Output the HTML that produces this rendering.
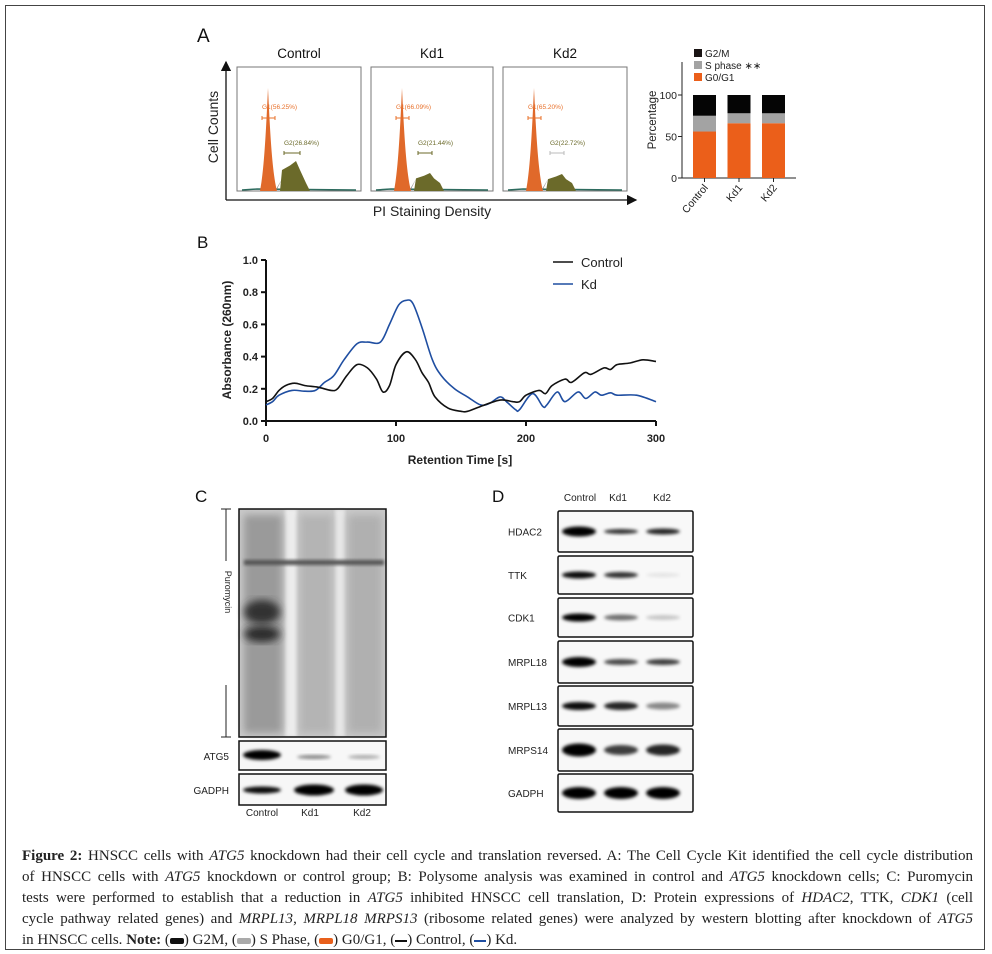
<!DOCTYPE html>
<html><head><meta charset="utf-8">
<style>
html,body{margin:0;padding:0;background:#fff;}
body{width:992px;height:954px;position:relative;overflow:hidden;font-family:"Liberation Sans",sans-serif;}
#frame{position:absolute;left:5px;top:5px;width:980px;height:945px;border:1px solid #444;box-sizing:border-box;}
.cap{position:absolute;left:22px;width:951px;font-family:"Liberation Serif",serif;font-size:15px;line-height:21px;color:#222;top:846px;}
.cap div{text-align:justify;text-align-last:justify;white-space:nowrap;}
.cap div.last{text-align-last:left;}
svg{position:absolute;left:0;top:0;}
</style></head>
<body>
<div id="frame"></div>
<svg id="fig" width="992" height="954">
<defs>
<filter id="blur1" x="-20%" y="-50%" width="140%" height="200%"><feGaussianBlur stdDeviation="1.6"/></filter>
<filter id="blur3" x="-20%" y="-20%" width="140%" height="140%"><feGaussianBlur stdDeviation="4"/></filter>
<marker id="arr" markerWidth="8" markerHeight="8" refX="7" refY="4" orient="auto"><path d="M0,0 L8,4 L0,8 z" fill="#111"/></marker>
</defs>
</svg>
<div class="cap">
<div><b>Figure 2:</b> HNSCC cells with <i>ATG5</i> knockdown had their cell cycle and translation reversed. A: The Cell Cycle Kit identified the cell cycle distribution</div>
<div>of HNSCC cells with <i>ATG5</i> knockdown or control group; B: Polysome analysis was examined in control and <i>ATG5</i> knockdown cells; C: Puromycin</div>
<div>tests were performed to establish that a reduction in <i>ATG5</i> inhibited HNSCC cell translation, D: Protein expressions of <i>HDAC2</i>, TTK, <i>CDK1</i> (cell</div>
<div>cycle pathway related genes) and <i>MRPL13</i>, <i>MRPL18 MRPS13</i> (ribosome related genes) were analyzed by western blotting after knockdown of <i>ATG5</i></div>
<div class="last">in HNSCC cells. <b>Note:</b> (<span style="display:inline-block;width:14px;height:6px;background:#111;border-radius:2px;vertical-align:middle"></span>) G2M, (<span style="display:inline-block;width:14px;height:6px;background:#aaa;border-radius:2px;vertical-align:middle"></span>) S Phase, (<span style="display:inline-block;width:14px;height:6px;background:#e8601c;border-radius:2px;vertical-align:middle"></span>) G0/G1, (<span style="display:inline-block;width:12px;height:2px;background:#111;vertical-align:middle"></span>) Control, (<span style="display:inline-block;width:12px;height:2px;background:#1f4ea1;vertical-align:middle"></span>) Kd.</div>
</div>
<script>
// ---- Panel B data ----
const ctrlT = [0,5,10,15,22,30,40,50,55,62,70,78,85,90,95,100,108,115,120,125,130,140,150,155,165,180,190,195,200,210,215,220,230,235,245,250,260,265,270,280,290,300];
const ctrlV = [0.12,0.14,0.19,0.22,0.235,0.22,0.21,0.19,0.20,0.28,0.35,0.33,0.26,0.18,0.22,0.35,0.43,0.38,0.30,0.24,0.15,0.08,0.06,0.06,0.09,0.13,0.12,0.12,0.16,0.19,0.17,0.22,0.26,0.24,0.30,0.29,0.33,0.32,0.35,0.36,0.38,0.37];
const kdT = [0,5,10,20,30,38,45,52,60,70,78,88,95,102,108,113,120,128,135,145,155,165,172,180,185,192,195,205,213,216,224,230,240,246,253,258,265,270,285,300];
const kdV = [0.10,0.12,0.16,0.19,0.185,0.19,0.24,0.28,0.38,0.48,0.49,0.49,0.60,0.72,0.75,0.73,0.58,0.38,0.28,0.20,0.15,0.10,0.11,0.15,0.12,0.07,0.07,0.17,0.09,0.10,0.18,0.12,0.18,0.14,0.18,0.16,0.175,0.16,0.16,0.12];
const bXTicks = [0,100,200,300];
const bYTicks = [0.0,0.2,0.4,0.6,0.8,1.0];
// ---- Panel A bar data ----
const cycleGroups = ['Control','Kd1','Kd2'];
const g0g1 = [56,66,66];
const sPhase = [19,12,12];
const g2m = [25,22,22];
const pctTicks = [0,50,100];
const histTitles = ['Control','Kd1','Kd2'];
const g1Labels = ['G1(56.25%)','G1(66.09%)','G1(65.20%)'];
const g2Labels = ['G2(26.84%)','G2(21.44%)','G2(22.72%)'];

const NS='http://www.w3.org/2000/svg';
const svg=document.getElementById('fig');
function mk(tag,attrs,parent){const e=document.createElementNS(NS,tag);for(const k in attrs)e.setAttribute(k,attrs[k]);(parent||svg).appendChild(e);return e;}
function txt(x,y,s,attrs,parent){const e=mk('text',Object.assign({x:x,y:y},attrs),parent);e.textContent=s;return e;}
function smooth(pts){let d='M'+pts[0][0]+','+pts[0][1];for(let i=0;i<pts.length-1;i++){const p0=pts[Math.max(0,i-1)],p1=pts[i],p2=pts[i+1],p3=pts[Math.min(pts.length-1,i+2)];const c1x=p1[0]+(p2[0]-p0[0])/6,c1y=p1[1]+(p2[1]-p0[1])/6,c2x=p2[0]-(p3[0]-p1[0])/6,c2y=p2[1]-(p3[1]-p1[1])/6;d+=' C'+c1x.toFixed(1)+','+c1y.toFixed(1)+' '+c2x.toFixed(1)+','+c2y.toFixed(1)+' '+p2[0].toFixed(1)+','+p2[1].toFixed(1);}return d;}

// ===== Panel A =====
let e;
e=txt(197,42,'A',{'font-size':19,fill:'#111'});


e=mk('line',{x1:226,y1:200,x2:226,y2:62,stroke:'#111','stroke-width':1.3,'marker-end':'url(#arr)'});


e=mk('line',{x1:226,y1:200,x2:636,y2:200,stroke:'#111','stroke-width':1.3,'marker-end':'url(#arr)'});


e=txt(0,0,'Cell Counts',{'font-size':14,fill:'#222','text-anchor':'middle',transform:'translate(218,127) rotate(-90)'});


e=txt(432,216,'PI Staining Density',{'font-size':14,fill:'#222','text-anchor':'middle'});


const boxes=[[237,361],[371,493],[503,627]];
const peakH=[103,103,103], g2H=[30,18,17];
boxes.forEach((b,i)=>{
  const x0=b[0],x1=b[1],w=x1-x0,top=67,bot=191;
  const g=mk('g',{});
  
  
  mk('rect',{x:x0,y:top,width:w,height:bot-top,fill:'#fff',stroke:'#777','stroke-width':1},g);
  txt((x0+x1)/2,58,histTitles[i],{'font-size':13.5,fill:'#111','text-anchor':'middle'},g);
  const px=x0+31;
  mk('path',{d:`M${x0+5},${bot-1} L${x0+20},${bot-2} L${x1-5},${bot-1}`,stroke:'#2d6b5e','stroke-width':1.5,fill:'none'},g);
  mk('path',{d:`M${px-7},${bot} L${px+8},${bot} L${px+14},${bot-12} L${px+7},${bot} z`,fill:'#7a7a7a'},g);
  const gx=px+14, gh=g2H[i];
  mk('path',{d:`M${gx-2},${bot} L${gx},${bot-gh*0.7} L${gx+8},${bot-gh*0.85} L${gx+14},${bot-gh} L${gx+18},${bot-gh*0.7} L${gx+24},${bot-8} L${gx+28},${bot} z`,fill:'#6b6a2a'},g);
  mk('path',{d:`M${px-8},${bot} C${px-4},${bot-20} ${px-2},${bot-60} ${px},${bot-peakH[i]} C${px+2},${bot-60} ${px+4},${bot-20} ${px+9},${bot} z`,fill:'#e0692a'},g);
  txt(px-6,109,g1Labels[i],{'font-size':6.5,fill:'#e8702a'},g);
  mk('path',{d:`M${px-6},116 v4 m0,-2 h13 m0,-2 v4`,stroke:'#e8702a','stroke-width':1,fill:'none'},g);
  txt(px+16,145,g2Labels[i],{'font-size':6.5,fill:'#6b6a2a'},g);
  mk('path',{d:`M${px+16},151 v4 m0,-2 h${i==0?16:14} m0,-2 v4`,stroke:i==2?'#bbb':'#6b6a2a','stroke-width':1,fill:'none'},g);
});
// bar chart
const bx0=682,bx1=796,by0=178,by100=95;
const yP=v=>by0-(by0-by100)*v/100;
e=mk('line',{x1:bx0,y1:62,x2:bx0,y2:by0,stroke:'#222','stroke-width':1});


e=mk('line',{x1:bx0,y1:by0,x2:bx1,y2:by0,stroke:'#222','stroke-width':1});


pctTicks.forEach(t=>{mk('line',{x1:bx0-4,y1:yP(t),x2:bx0,y2:yP(t),stroke:'#222'});e=txt(bx0-5,yP(t)+4,String(t),{'font-size':10.5,fill:'#222','text-anchor':'end'});});
e=txt(0,0,'Percentage',{'font-size':11.5,fill:'#222','text-anchor':'middle',transform:'translate(656,120) rotate(-90)'});


const bw=23, bStep=34.5, bStart=693;
cycleGroups.forEach((c,i)=>{
  const x=bStart+i*bStep;
  const a=g0g1[i], s=a+sPhase[i], t=s+g2m[i];
  e=mk('rect',{x:x,y:yP(a),width:bw,height:yP(0)-yP(a),fill:'#eb5f1a'});
  
  
  e=mk('rect',{x:x,y:yP(s),width:bw,height:yP(a)-yP(s),fill:'#a3a3a3'});
  
  
  e=mk('rect',{x:x,y:yP(t),width:bw,height:yP(s)-yP(t),fill:'#050505'});
  
  
  mk('line',{x1:x+bw/2,y1:by0,x2:x+bw/2,y2:by0+4,stroke:'#222'});
  e=txt(0,0,c,{'font-size':10.5,fill:'#222','text-anchor':'end',transform:`translate(${x+bw/2+4},${by0+10}) rotate(-50)`});
  
  
});
[['G2/M','#1a1414'],['S phase \u2217\u2217','#a3a3a3'],['G0/G1','#eb5f1a']].forEach((l,i)=>{
  const g=mk('g',{});
  
  
  mk('rect',{x:694,y:49+i*12,width:8,height:8,fill:l[1]},g);
  txt(705,57+i*12,l[0],{'font-size':10,fill:'#222'},g);
});

// ===== Panel B =====
const X0=266,X1=656,Y0=421,Y1=260;
const xB=t=>X0+(X1-X0)*t/300;
const yB=v=>Y0-(Y0-Y1)*v;
e=txt(197,248,'B',{'font-size':17,fill:'#111'});


e=mk('line',{x1:X0,y1:Y1,x2:X0,y2:Y0,stroke:'#111','stroke-width':2});


e=mk('line',{x1:X0,y1:Y0,x2:X1,y2:Y0,stroke:'#111','stroke-width':2});


bYTicks.forEach(t=>{mk('line',{x1:X0-5,y1:yB(t),x2:X0,y2:yB(t),stroke:'#111','stroke-width':2});e=txt(X0-8,yB(t)+4,t.toFixed(1),{'font-size':11,'font-weight':'bold',fill:'#222','text-anchor':'end'});});
bXTicks.forEach(t=>{mk('line',{x1:xB(t),y1:Y0,x2:xB(t),y2:Y0+5,stroke:'#111','stroke-width':2});e=txt(xB(t),Y0+21,String(t),{'font-size':11,'font-weight':'bold',fill:'#222','text-anchor':'middle'});});
e=txt(0,0,'Absorbance (260nm)',{'font-size':12,'font-weight':'bold',fill:'#222','text-anchor':'middle',transform:'translate(231,340) rotate(-90)'});


e=txt(460,464,'Retention Time [s]',{'font-size':12,'font-weight':'bold',fill:'#222','text-anchor':'middle'});


e=mk('path',{d:smooth(kdT.map((t,i)=>[xB(t),yB(kdV[i])])),stroke:'#1f4ea1','stroke-width':1.6,fill:'none'});


e=mk('path',{d:smooth(ctrlT.map((t,i)=>[xB(t),yB(ctrlV[i])])),stroke:'#111','stroke-width':1.6,fill:'none'});


[['Control','#111'],['Kd','#1f4ea1']].forEach((l,i)=>{
  const g=mk('g',{});
  
  
  mk('line',{x1:553,y1:262+i*22,x2:573,y2:262+i*22,stroke:l[1],'stroke-width':1.6},g);
  txt(581,267+i*22,l[0],{'font-size':13,fill:'#222'},g);
});

// ===== Panel C =====
e=txt(195,502,'C',{'font-size':17,fill:'#111'});


let g=mk('g',{});


mk('rect',{x:239,y:509,width:147,height:228,fill:'#c9c9c9'},g);
mk('rect',{x:285,y:509,width:12,height:228,fill:'#ececec',filter:'url(#blur1)'},g);
mk('rect',{x:335,y:509,width:10,height:228,fill:'#e6e6e6',filter:'url(#blur1)'},g);
mk('rect',{x:244,y:515,width:38,height:218,fill:'#9a9a9a',filter:'url(#blur3)'},g);
mk('rect',{x:300,y:515,width:32,height:218,fill:'#b4b4b4',filter:'url(#blur3)'},g);
mk('rect',{x:348,y:515,width:34,height:218,fill:'#b0b0b0',filter:'url(#blur3)'},g);
mk('ellipse',{cx:262,cy:612,rx:18,ry:12,fill:'#333',filter:'url(#blur3)'},g);
mk('ellipse',{cx:262,cy:634,rx:18,ry:8,fill:'#2a2a2a',filter:'url(#blur3)'},g);
mk('rect',{x:244,y:560,width:140,height:5,fill:'#555',filter:'url(#blur1)'},g);
mk('rect',{x:239,y:509,width:147,height:228,fill:'none',stroke:'#111','stroke-width':1.5},g);
mk('path',{d:'M221,509 h10 M226,509 V561 M226,685 V737 M221,737 h10',stroke:'#222','stroke-width':1,fill:'none'},g);
txt(0,0,'Puromycin',{'font-size':9,fill:'#222','text-anchor':'middle',transform:'translate(225,592) rotate(90)'},g);
function band(parent,cx,cy,w,h,op){mk('ellipse',{cx:cx,cy:cy,rx:w/2,ry:h/2,fill:'#000','fill-opacity':op,filter:'url(#blur1)'},parent);}
g=mk('g',{});


mk('rect',{x:239,y:741,width:147,height:29,fill:'#f7f7f7',stroke:'#111','stroke-width':1.5},g);
band(g,262,755,38,10,1);band(g,314,757,34,4,0.45);band(g,364,757,32,4,0.3);
txt(229,760,'ATG5',{'font-size':10,fill:'#222','text-anchor':'end'},g);
g=mk('g',{});


mk('rect',{x:239,y:774,width:147,height:31,fill:'#f7f7f7',stroke:'#111','stroke-width':1.5},g);
band(g,262,790,38,7,0.95);band(g,314,790,40,11,1);band(g,364,790,38,11,1);
txt(229,794,'GADPH',{'font-size':10,fill:'#222','text-anchor':'end'},g);
[['Control',262],['Kd1',310],['Kd2',362]].forEach(l=>{e=txt(l[1],816,l[0],{'font-size':10,fill:'#222','text-anchor':'middle'});});

// ===== Panel D =====
e=txt(492,502,'D',{'font-size':17,fill:'#111'});


[['Control',580],['Kd1',618],['Kd2',662]].forEach(l=>{e=txt(l[1],501,l[0],{'font-size':10,fill:'#222','text-anchor':'middle'});});
const dRows=[['HDAC2',511,552,[[1,10],[0.8,5],[0.85,6]]],['TTK',556,594,[[0.95,7],[0.8,6],[0.08,4]]],['CDK1',598,637,[[1,8],[0.55,6],[0.2,5]]],['MRPL18',641,683,[[1,10],[0.7,6],[0.75,6]]],['MRPL13',686,726,[[0.95,8],[0.85,8],[0.45,7]]],['MRPS14',729,771,[[1,13],[0.75,10],[0.85,11]]],['GADPH',774,812,[[1,12],[1,12],[1,12]]]];
dRows.forEach(r=>{
  const g=mk('g',{});
  
  
  mk('rect',{x:558,y:r[1],width:135,height:r[2]-r[1],fill:'#f8f8f8',stroke:'#111','stroke-width':1.5,rx:1.5},g);
  const cy=(r[1]+r[2])/2;
  [579,621,663].forEach((cx,k)=>band(g,cx,cy,34,r[3][k][1],r[3][k][0]));
  txt(508,cy+4,r[0],{'font-size':10,fill:'#222'},g);
});
</script>
</body></html>
